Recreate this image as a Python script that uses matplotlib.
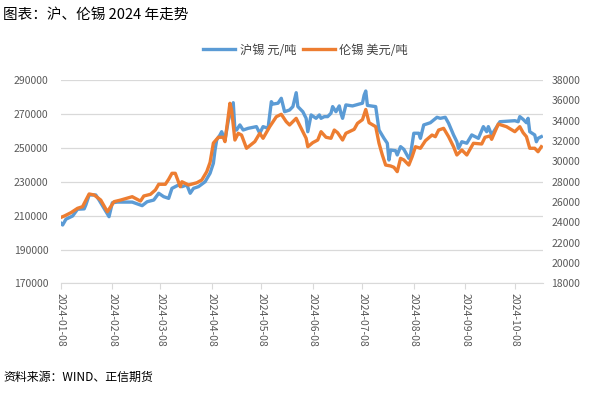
import matplotlib
matplotlib.use("Agg")
import matplotlib.pyplot as plt
import pandas as pd

plt.rcParams['font.family'] = ['Noto Sans CJK SC', 'DejaVu Sans']

shfe_dates = ["2024-01-08","2024-01-09","2024-01-11","2024-01-15","2024-01-18","2024-01-22","2024-01-23",
    "2024-01-25","2024-01-29","2024-01-31","2024-02-03","2024-02-06","2024-02-08","2024-02-11","2024-02-20",
    "2024-02-22","2024-02-26","2024-02-29","2024-03-04","2024-03-07","2024-03-10","2024-03-13","2024-03-15",
    "2024-03-19","2024-03-21","2024-03-24","2024-03-26","2024-03-28","2024-03-31","2024-04-04","2024-04-07",
    "2024-04-09","2024-04-10","2024-04-11","2024-04-13","2024-04-14","2024-04-16","2024-04-18","2024-04-21",
    "2024-04-22","2024-04-23","2024-04-25","2024-04-27","2024-04-30","2024-05-05","2024-05-07","2024-05-09",
    "2024-05-12","2024-05-14","2024-05-15","2024-05-18","2024-05-20","2024-05-22","2024-05-25","2024-05-27",
    "2024-05-29","2024-05-30","2024-06-02","2024-06-04","2024-06-05","2024-06-07","2024-06-10","2024-06-12",
    "2024-06-13","2024-06-15","2024-06-17","2024-06-19","2024-06-20","2024-06-22","2024-06-24","2024-06-25",
    "2024-06-26","2024-06-28","2024-07-02","2024-07-06","2024-07-08","2024-07-09","2024-07-10","2024-07-11",
    "2024-07-16","2024-07-18","2024-07-21","2024-07-23","2024-07-24","2024-07-25","2024-07-28","2024-07-29",
    "2024-07-31","2024-08-02","2024-08-05","2024-08-06","2024-08-08","2024-08-11","2024-08-12","2024-08-14",
    "2024-08-18","2024-08-22","2024-08-24","2024-08-27","2024-08-29","2024-09-01","2024-09-03","2024-09-04",
    "2024-09-06","2024-09-09","2024-09-12","2024-09-16","2024-09-19","2024-09-21","2024-09-22","2024-09-24",
    "2024-09-29","2024-10-08","2024-10-10","2024-10-11","2024-10-13","2024-10-15","2024-10-16","2024-10-17",
    "2024-10-20","2024-10-21","2024-10-22","2024-10-24"]
shfe_values = [205500,204500,207900,209800,213800,214000,216300,
    222200,222200,219200,214300,209400,217600,218000,218000,
    217300,215900,218200,219200,223200,221200,220200,226100,
    228100,227100,228100,223200,226100,227100,230000,235000,
    240900,248700,254600,257600,259500,254600,266000,276600,
    260500,260500,263500,260500,261500,262500,258600,262500,
    261500,277200,275800,276300,279200,271300,272300,274300,
    282500,274300,271300,267400,259500,269400,267400,269400,
    267400,268400,268400,270400,274300,271300,274700,270400,
    267400,275300,274700,275800,276300,281000,283500,275000,
    274300,260500,255600,252700,242800,248700,248300,245800,
    250700,249100,243800,245800,258600,258600,255600,263500,
    264800,268000,267400,268000,264500,257600,253600,249700,
    253600,252700,257600,255600,262500,259500,262500,257600,
    265400,266000,265400,268400,266800,264800,267400,259500,
    257600,253600,255600,256600]

lme_dates = ["2024-01-08","2024-01-10","2024-01-14","2024-01-18","2024-01-21","2024-01-25","2024-01-28",
    "2024-02-01","2024-02-05","2024-02-09","2024-02-13","2024-02-20","2024-02-23","2024-02-25","2024-02-27",
    "2024-03-02","2024-03-05","2024-03-07","2024-03-11","2024-03-13","2024-03-15","2024-03-17","2024-03-20",
    "2024-03-21","2024-03-25","2024-03-30","2024-04-02","2024-04-05","2024-04-07","2024-04-09","2024-04-12",
    "2024-04-15","2024-04-16","2024-04-19","2024-04-20","2024-04-22","2024-04-24","2024-04-26","2024-04-29",
    "2024-05-04","2024-05-07","2024-05-09","2024-05-13","2024-05-17","2024-05-20","2024-05-23","2024-05-25",
    "2024-05-29","2024-06-01","2024-06-04","2024-06-05","2024-06-08","2024-06-11","2024-06-13","2024-06-16",
    "2024-06-19","2024-06-21","2024-06-23","2024-06-26","2024-06-28","2024-07-03","2024-07-05","2024-07-08",
    "2024-07-10","2024-07-12","2024-07-16","2024-07-18","2024-07-20","2024-07-22","2024-07-25","2024-07-27",
    "2024-07-29","2024-07-31","2024-08-02","2024-08-05","2024-08-07","2024-08-09","2024-08-12","2024-08-15",
    "2024-08-19","2024-08-21","2024-08-23","2024-08-26","2024-08-29","2024-09-01","2024-09-03","2024-09-06",
    "2024-09-09","2024-09-13","2024-09-18","2024-09-20","2024-09-23","2024-09-24","2024-09-28","2024-10-03",
    "2024-10-08","2024-10-11","2024-10-13","2024-10-15","2024-10-17","2024-10-20","2024-10-22","2024-10-24"]
lme_values = [24500,24630,24960,25390,25550,26800,26700,
    26200,25050,26040,26200,26530,26270,26100,26600,
    26760,27190,27750,27750,28240,28830,28830,27510,
    28000,27680,27900,28170,28990,29900,31800,32370,
    32370,31940,35710,35050,32100,32760,32590,31290,
    31940,32760,32270,33410,34390,34630,33900,33580,
    34230,33250,32270,31440,31840,32100,32920,32370,
    32270,33080,32820,32100,32760,33150,33740,34100,
    35100,33800,33410,31780,30630,29640,29550,29420,
    28990,30300,30140,29640,30460,31440,31290,32030,
    32590,32430,33080,33250,32430,31440,30630,31120,
    30630,31780,31710,32370,32500,32170,33670,33410,
    32920,33410,32820,32430,31290,31290,30950,31440]

x_ticks = ["2024-01-08","2024-02-08","2024-03-08","2024-04-08","2024-05-08",
           "2024-06-08","2024-07-08","2024-08-08","2024-09-08","2024-10-08"]
left_ticks = [170000,190000,210000,230000,250000,270000,290000]
right_ticks = [18000,20000,22000,24000,26000,28000,30000,32000,34000,36000,38000]

blue = "#5B9BD5"
orange = "#ED7D31"
grid_c = "#D9D9D9"
txt_c = "#595959"

fig = plt.figure(figsize=(5.95, 3.95), dpi=100)
ax = fig.add_axes([0.1025, 0.2823, 0.8101, 0.5152])
ax2 = ax.twinx()

sd = pd.to_datetime(shfe_dates)
ld = pd.to_datetime(lme_dates)
l1, = ax.plot(sd, shfe_values, color=blue, lw=2.4, solid_joinstyle='round', label="沪锡 元/吨")
l2, = ax2.plot(ld, lme_values, color=orange, lw=2.4, solid_joinstyle='round', label="伦锡 美元/吨")

ax.set_ylim(170000, 290000)
ax.set_yticks(left_ticks)
ax2.set_ylim(18000, 38000)
ax2.set_yticks(right_ticks)
ax.set_xlim(pd.Timestamp("2024-01-08"), pd.Timestamp("2024-10-25"))
xt = pd.to_datetime(x_ticks)
ax.set_xticks(xt)
ax.set_xticklabels(x_ticks, rotation=270, fontsize=7.5, color=txt_c)

ax.grid(axis='y', color=grid_c, lw=0.9)
ax.set_axisbelow(True)
for a in (ax, ax2):
    for s in ('left', 'right', 'top'):
        a.spines[s].set_visible(False)
    a.spines['bottom'].set_color(grid_c)
ax2.spines['bottom'].set_visible(False)
ax.tick_params(axis='y', length=0, labelsize=7.5, labelcolor=txt_c, pad=9)
ax2.tick_params(axis='y', length=0, labelsize=7.5, labelcolor=txt_c, pad=6)
ax.tick_params(axis='x', length=4, color=grid_c, pad=3)

fig.legend(handles=[l1, l2], loc='center', bbox_to_anchor=(0.514, 0.873), ncol=2,
           frameon=False, fontsize=8.8, handlelength=2.6, columnspacing=0.5, handletextpad=0.4,
           labelcolor="#404040")

fig.text(0.005, 0.962, "图表：沪、伦锡 2024 年走势", fontsize=10.5, color="#000000", va='center', ha='left')
fig.text(0.005, 0.045, "资料来源：WIND、正信期货", fontsize=8.6, color="#000000", va='center', ha='left')

fig.savefig("out.png", dpi=100)
